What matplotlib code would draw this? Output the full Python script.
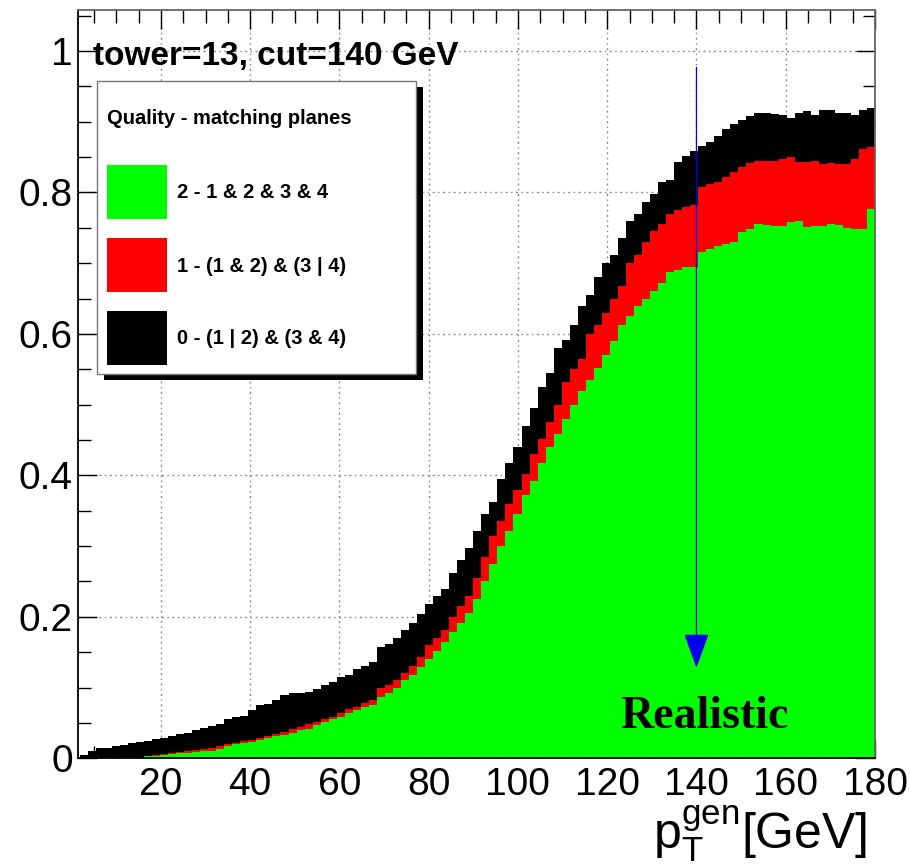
import matplotlib
matplotlib.use('Agg')
import matplotlib.pyplot as plt
import numpy as np
from matplotlib.patches import Rectangle
from matplotlib.transforms import Affine2D
from matplotlib.ticker import MultipleLocator, FuncFormatter

plt.rcParams['font.family'] = ['Liberation Sans', 'DejaVu Sans']
plt.rcParams['mathtext.fontset'] = 'custom'
plt.rcParams['mathtext.rm'] = 'Liberation Sans'
plt.rcParams['mathtext.it'] = 'Liberation Sans:italic'
plt.rcParams['mathtext.bf'] = 'Liberation Sans:bold'

# binning in generated pt
pt_lo, pt_hi, n_bins = 0.0, 180.0, 100

# efficiency for quality >= 2, >= 1, >= 0 (stack levels)
eff_q2 = [0.001, 0.001, 0.001, 0.001, 0.001, 0.001, 0.001, 0.001, 0.001, 0.003,
          0.003, 0.004, 0.006, 0.007, 0.008, 0.009, 0.010, 0.011, 0.013, 0.017,
          0.020, 0.022, 0.023, 0.026, 0.028, 0.031, 0.033, 0.036, 0.040, 0.042,
          0.047, 0.051, 0.055, 0.058, 0.064, 0.068, 0.072, 0.076, 0.086, 0.092,
          0.100, 0.110, 0.118, 0.129, 0.140, 0.152, 0.165, 0.178, 0.191, 0.205,
          0.225, 0.250, 0.275, 0.300, 0.322, 0.345, 0.372, 0.392, 0.418, 0.440,
          0.458, 0.480, 0.500, 0.520, 0.535, 0.552, 0.570, 0.590, 0.612, 0.625,
          0.640, 0.650, 0.660, 0.672, 0.688, 0.690, 0.694, 0.695, 0.716, 0.720,
          0.725, 0.727, 0.730, 0.744, 0.748, 0.755, 0.754, 0.752, 0.753, 0.758,
          0.759, 0.751, 0.752, 0.752, 0.755, 0.754, 0.750, 0.748, 0.749, 0.776]
eff_q1 = [0.001, 0.001, 0.001, 0.001, 0.001, 0.001, 0.001, 0.001, 0.001, 0.003,
          0.004, 0.006, 0.008, 0.009, 0.010, 0.012, 0.013, 0.015, 0.017, 0.020,
          0.022, 0.024, 0.026, 0.028, 0.031, 0.034, 0.037, 0.041, 0.044, 0.048,
          0.052, 0.055, 0.059, 0.064, 0.070, 0.073, 0.078, 0.082, 0.099, 0.104,
          0.110, 0.120, 0.130, 0.143, 0.160, 0.170, 0.181, 0.200, 0.215, 0.230,
          0.255, 0.285, 0.315, 0.335, 0.360, 0.380, 0.402, 0.430, 0.452, 0.475,
          0.500, 0.532, 0.550, 0.565, 0.600, 0.612, 0.630, 0.650, 0.668, 0.700,
          0.712, 0.730, 0.745, 0.755, 0.770, 0.775, 0.779, 0.782, 0.808, 0.812,
          0.815, 0.822, 0.829, 0.836, 0.842, 0.844, 0.845, 0.844, 0.848, 0.850,
          0.843, 0.843, 0.845, 0.840, 0.841, 0.840, 0.840, 0.847, 0.862, 0.864]
eff_q0 = [0.002, 0.004, 0.010, 0.014, 0.015, 0.018, 0.019, 0.022, 0.023, 0.025,
          0.027, 0.028, 0.031, 0.034, 0.036, 0.040, 0.043, 0.046, 0.049, 0.055,
          0.058, 0.060, 0.068, 0.076, 0.077, 0.082, 0.089, 0.092, 0.093, 0.094,
          0.098, 0.104, 0.108, 0.115, 0.118, 0.126, 0.130, 0.136, 0.158, 0.162,
          0.170, 0.182, 0.192, 0.204, 0.218, 0.230, 0.240, 0.262, 0.280, 0.298,
          0.322, 0.345, 0.362, 0.395, 0.418, 0.440, 0.470, 0.495, 0.525, 0.545,
          0.580, 0.592, 0.612, 0.640, 0.655, 0.680, 0.700, 0.712, 0.735, 0.760,
          0.770, 0.786, 0.798, 0.815, 0.818, 0.843, 0.852, 0.858, 0.866, 0.872,
          0.880, 0.890, 0.897, 0.903, 0.908, 0.912, 0.913, 0.911, 0.909, 0.906,
          0.912, 0.915, 0.910, 0.917, 0.916, 0.912, 0.912, 0.910, 0.917, 0.920]

legend_title = 'Quality - matching planes'
legend_labels = ['2 - 1 & 2 & 3 & 4', '1 - (1 & 2) & (3 | 4)', '0 - (1 | 2) & (3 & 4)']
colors = ['#00ff00', '#ff0000', '#000000']
cut_pt = 140

W, H = 910, 866
fig = plt.figure(figsize=(W / 100, H / 100), dpi=100)
# pixel coordinates measured from the top-left corner
pix = Affine2D().scale(1, -1).translate(0, H)

ax = fig.add_axes([78.3 / W, 1 - 758.3 / H, (875 - 78.3) / W, (758.3 - 10) / H])
edges = np.linspace(pt_lo, pt_hi, n_bins + 1)
ax.stairs(eff_q0, edges, fill=True, color=colors[2], lw=0, zorder=2)
ax.stairs(eff_q1, edges, fill=True, color=colors[1], lw=0, zorder=2)
ax.stairs(eff_q2, edges, fill=True, color=colors[0], lw=0, zorder=2)

ax.set_xlim(1.5, 180)
ax.set_ylim(0, 1.058)
ax.set_axisbelow(True)
ax.xaxis.set_major_locator(MultipleLocator(20))
ax.xaxis.set_minor_locator(MultipleLocator(5))
ax.yaxis.set_major_locator(MultipleLocator(0.2))
ax.yaxis.set_minor_locator(MultipleLocator(0.05))
ax.yaxis.set_major_formatter(FuncFormatter(lambda v, p: '%g' % round(v, 2)))
ax.tick_params(which='both', direction='in', top=True, right=True, width=1, labelsize=28)
ax.tick_params(which='major', length=14)
ax.tick_params(which='minor', length=9)
ax.tick_params(axis='x', pad=6)
ax.tick_params(axis='y', pad=4)
ax.grid(True, which='major', color='#888888', linestyle=(0, (1.5, 2.5, 1, 2.5)), linewidth=1.0)
for side in ['top', 'right']:
    ax.spines[side].set_color('#666666')
for side in ['left', 'bottom']:
    ax.spines[side].set_color('black')
for sp in ax.spines.values():
    sp.set_linewidth(1.3)

# trigger cut arrow
ax.annotate('', xy=(cut_pt, 0.128), xytext=(cut_pt, 0.977),
            arrowprops=dict(arrowstyle='-|>,head_length=2.2,head_width=0.8', mutation_scale=10,
                            color='#0000ee', lw=0.9, shrinkA=0, shrinkB=0), zorder=5)
ax.text(141.7, 0.0425, 'Realistic', family=['Liberation Serif'], weight='bold', size=33,
        ha='center', va='baseline', zorder=5)

fig.text(93, 65, 'tower=13, cut=140 GeV', transform=pix, weight='bold', size=24,
         ha='left', va='baseline')

fig.text(867, 848, r'$\mathrm{p}_{\mathrm{T}}^{\mathrm{gen}}$[GeV]', transform=pix, size=36,
         ha='right', va='baseline')

# legend box with shadow
fig.add_artist(Rectangle((104, 87), 319, 293, transform=pix, facecolor='black', edgecolor='none', zorder=10))
fig.add_artist(Rectangle((97, 81), 319, 293, transform=pix, facecolor='white', edgecolor='#777777', lw=1, zorder=11))
fig.text(107, 118, legend_title, transform=pix, weight='bold', size=14.5, ha='left', va='center', zorder=12)
row_y = [165, 238, 311]
for y0, col, lab in zip(row_y, colors, legend_labels):
    fig.add_artist(Rectangle((107, y0), 60, 54, transform=pix, facecolor=col, edgecolor='none', zorder=12))
    fig.text(177, y0 + 28, lab, transform=pix, weight='bold', size=14.5, ha='left', va='center', zorder=12)

fig.savefig('out.png', dpi=100)
